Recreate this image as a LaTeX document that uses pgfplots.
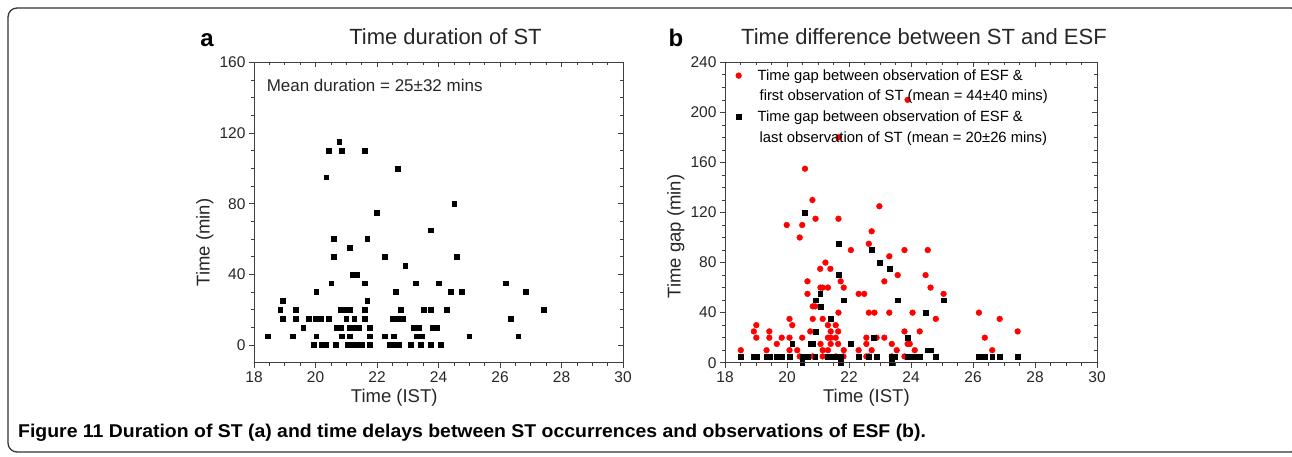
\documentclass[border=0pt]{standalone}
\usepackage{fontspec}
\setmainfont{Liberation Sans}
\usepackage{pgfplots}
\pgfplotsset{compat=1.18}

\pgfplotsset{
  originbox/.style={
    scale only axis, height=300.4pt,
    xmin=18, xmax=30, xtick={18,20,...,30},
    minor x tick num=3, minor y tick num=3,
    major tick length=5pt, minor tick length=3pt,
    axis line style={black!75, line width=0.8pt},
    every tick/.style={black!75, line width=0.7pt},
    /pgf/number format/assume math mode=true,
    tick label style={font=\fontsize{15.5}{17}\selectfont, text=black!85},
    label style={font=\fontsize{18.5}{21}\selectfont, text=black!85},
    title style={font=\fontsize{22}{25}\selectfont, text=black!85, at={(0.5,1)}, anchor=base, yshift=12pt},
  },
  lowerticks/.style={originbox, tick align=outside, xtick pos=left, ytick pos=left},
  upperticks/.style={originbox, tick align=inside, xtick pos=right, ytick pos=right,
    xticklabels={}, yticklabels={}},
}

\begin{document}
\begin{tikzpicture}[x=1pt,y=1pt]
\path[use as bounding box] (0,0) rectangle (1292,456);
% frame of the figure
\draw[black!80, line width=1.3pt, rounded corners=9pt] (8,4) rectangle (1300,448);

% ---------------- panel a
\begin{axis}[lowerticks, at={(254pt,93.3pt)}, anchor=south west, width=369pt,
    ymin=-10, ymax=160, ytick={0,40,...,160},
    title={Time duration of ST}, title style={xshift=7pt},
    xlabel={Time (IST)}, ylabel={Time (min)},
    xlabel style={at={(axis description cs:0.38,-0.116)}, anchor=center},
    ylabel style={at={(axis description cs:-0.133,0.40)}, anchor=center},
  ]
  \addplot[only marks, mark=square*, mark size=2.4pt, black] coordinates {
    (20.77,115)
    (20.44,110) (20.85,110) (21.59,110)
    (22.67,100) (20.35,95) (24.51,80) (22.0,75) (23.75,65)
    (20.6,60) (21.68,60) (21.1,55)
    (20.6,50) (22.26,50) (24.6,50) (22.92,45)
    (21.2,40) (21.35,40)
    (20.51,35) (21.59,35) (23.26,35) (24.0,35) (26.18,35)
    (20.02,30) (22.6,30) (24.4,30) (24.75,30) (26.83,30)
    (18.94,25) (21.68,25)
    (18.85,20) (19.36,20) (20.8,20) (20.95,20) (21.1,20) (21.59,20) (22.76,20)
    (23.51,20) (23.75,20) (24.26,20) (27.41,20)
    (18.94,15) (19.36,15) (19.77,15) (20.0,15) (20.17,15) (20.44,15) (21.0,15)
    (21.26,15) (21.59,15) (22.5,15) (22.67,15) (22.85,15) (26.34,15)
    (19.6,10) (20.7,10) (20.82,10) (21.1,10) (21.3,10) (21.42,10) (21.77,10)
    (23.2,10) (23.35,10) (23.82,10) (23.95,10)
    (18.44,5) (19.27,5) (20.02,5) (20.85,5) (21.1,5) (21.77,5) (22.26,5)
    (22.55,5) (23.3,5) (23.45,5) (25.0,5) (26.59,5)
    (19.93,0) (20.2,0) (20.35,0) (20.66,0) (21.05,0) (21.2,0) (21.35,0) (21.5,0)
    (21.77,0) (22.4,0) (22.55,0) (22.7,0) (23.1,0) (23.43,0) (23.75,0) (24.08,0)
  };
  \node[anchor=west, font=\fontsize{17}{20}\selectfont, text=black!85]
    at (rel axis cs:0.025,0.924) {Mean duration = 25±32 mins};
\end{axis}
\begin{axis}[upperticks, at={(254pt,93.3pt)}, anchor=south west, width=369pt,
    ymin=-10, ymax=160, ytick={0,40,...,160}]
\end{axis}

% ---------------- panel b
\begin{axis}[lowerticks, at={(725pt,93.3pt)}, anchor=south west, width=372pt,
    ymin=0, ymax=240, ytick={0,40,...,240},
    title={Time difference between ST and ESF}, title style={xshift=13pt},
    xlabel={Time (IST)}, ylabel={Time gap (min)},
    xlabel style={at={(axis description cs:0.38,-0.116)}, anchor=center},
    ylabel style={at={(axis description cs:-0.132,0.42)}, anchor=center},
    legend style={at={(axis description cs:0.02,0.99)}, anchor=north west,
      draw=none, fill=none, font=\fontsize{14.8}{17}\selectfont,
      row sep=4.5pt, cells={anchor=west}},
    legend image code/.code={\path[draw=none, fill=none] (0pt,0pt) rectangle (20pt,0.1pt);
      \draw[#1] plot coordinates {(3pt,0pt)};},
  ]
  \addplot[only marks, mark=*, mark size=2.9pt, red, draw=red, fill=red] coordinates {
    (23.89,210) (21.66,180)
    (20.58,155) (20.82,130) (22.98,125) (20.92,115) (21.66,115) (19.99,110)
    (20.49,110) (22.73,105) (20.41,100) (22.64,95)
    (22.06,90) (23.79,90) (24.54,90) (23.30,85) (21.24,80) (21.07,75) (21.40,75)
    (23.57,70) (24.47,70)
    (20.66,65) (21.73,65) (23.14,65)
    (21.08,60) (21.15,60) (21.32,60) (21.83,60) (24.63,60)
    (20.66,55) (22.31,55) (22.49,55) (25.05,55)
    (20.83,45) (20.91,45)
    (21.66,40) (22.64,40) (22.82,40) (23.30,40) (24.05,40) (26.19,40)
    (20.08,35) (20.83,35) (21.15,35) (24.80,35) (26.86,35)
    (19.01,30) (20.17,30) (21.32,30) (21.57,30)
    (18.93,25) (19.43,25) (20.75,25) (21.41,25) (21.65,25) (23.79,25) (24.28,25) (27.44,25)
    (19.01,20) (19.43,20) (19.83,20) (20.08,20) (20.49,20) (21.32,20) (21.41,20)
    (21.57,20) (22.56,20) (22.89,20) (23.14,20) (26.38,20)
    (19.67,15) (21.08,15) (21.41,15) (21.65,15) (22.56,15) (23.38,15) (23.89,15) (23.96,15)
    (18.51,10) (19.34,10) (20.08,10) (20.33,10) (21.15,10) (21.32,10) (21.83,10)
    (22.31,10) (22.73,10) (23.54,10) (24.12,10) (26.62,10)
    (20.41,5) (20.83,5) (21.15,5) (21.57,5) (21.82,5) (22.56,5) (22.64,5) (23.38,5) (23.79,5)
  };
  \addlegendentry{Time gap between observation of ESF \&}
  \addlegendimage{empty legend}
  \addlegendentry{\hspace{2pt}first observation of ST (mean = 44±40 mins)}
  \addplot[only marks, mark=square*, mark size=2.4pt, black] coordinates {
    (20.58,120) (21.66,95) (22.73,90) (22.98,80) (23.30,75) (21.66,70) (21.07,55)
    (20.92,50) (21.83,50) (23.57,50) (25.05,50) (21.08,45) (24.47,40) (21.41,35)
    (20.92,25) (23.89,20) (22.79,20) (20.17,15) (20.75,15) (20.82,15) (22.06,15)
    (24.55,10) (24.63,10)
    (18.51,5) (18.93,5) (19.01,5) (19.34,5) (19.43,5) (19.67,5) (19.75,5) (19.83,5)
    (20.08,5) (20.49,5) (20.57,5) (20.66,5) (20.91,5) (21.32,5) (21.41,5) (21.57,5)
    (21.73,5) (22.31,5) (22.64,5) (22.89,5) (23.38,5) (23.47,5) (23.88,5) (23.96,5)
    (24.04,5) (24.12,5) (24.21,5) (24.29,5) (24.80,5) (26.19,5) (26.28,5) (26.38,5)
    (26.62,5) (26.86,5) (27.44,5)
    (20.49,0) (21.73,0) (23.38,0)
  };
  \addlegendentry{Time gap between observation of ESF \&}
  \addlegendimage{empty legend}
  \addlegendentry{\hspace{2pt}last observation of ST (mean = 20±26 mins)}
\end{axis}
\begin{axis}[upperticks, at={(725pt,93.3pt)}, anchor=south west, width=372pt,
    ymin=0, ymax=240, ytick={0,40,...,240}]
\end{axis}

% panel letters and caption
\node[font=\fontsize{24}{26}\bfseries, anchor=base] at (207,409) {a};
\node[font=\fontsize{24}{26}\bfseries, anchor=base] at (676,409) {b};
\node[anchor=base west, inner sep=0pt] at (18,19)
  {\scalebox{1.05}[1]{\fontsize{18.5}{21}\bfseries Figure 11 Duration of ST (a) and time delays between ST occurrences and observations of ESF (b).}};
\end{tikzpicture}
\end{document}
